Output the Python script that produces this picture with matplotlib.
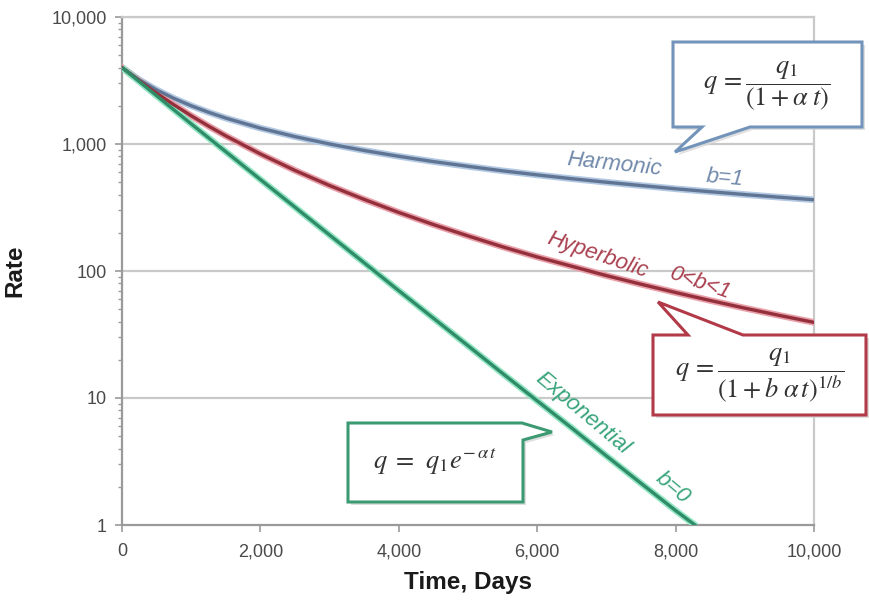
import matplotlib
matplotlib.use("Agg")
import matplotlib.pyplot as plt
from matplotlib.patches import Polygon
from matplotlib.ticker import FixedLocator, NullFormatter, LogLocator

# ---- data ----
t_days = [0, 250, 500, 750, 1000, 1250, 1500, 2000, 2500, 3000, 3500, 4000, 4500, 5000,
          5500, 6000, 6500, 7000, 7500, 8000, 8500, 9000, 9500, 10000]
harmonic = [4000, 3200, 2667, 2286, 2000, 1778, 1600, 1333, 1143, 1000, 889, 800, 727, 667,
            615, 571, 533, 500, 471, 444, 421, 400, 381, 364]
hyperbolic = [4000, 3143, 2510, 2034, 1668, 1384, 1159, 835, 619, 471, 366, 289, 232, 189,
              155, 129, 109, 92, 78.7, 67.7, 58.6, 51.0, 44.7, 39.4]
t_exp = [0, 500, 1000, 1500, 2000, 2500, 3000, 3500, 4000, 4500, 5000,
         5500, 6000, 6500, 7000, 7500, 8000, 8300]
exponential = [4000, 2400, 1440, 870, 525, 318, 192, 116, 70, 42.5, 25.8,
               15.6, 9.5, 5.8, 3.5, 2.13, 1.3, 0.98]

x_ticks = [0, 2000, 4000, 6000, 8000, 10000]
x_tick_labels = ["0", "2,000", "4,000", "6,000", "8,000", "10,000"]
y_ticks = [1, 10, 100, 1000, 10000]
y_tick_labels = ["1", "10", "100", "1,000", "10,000"]

W, H = 869, 600
plt.rcParams['font.family'] = ['Liberation Sans', 'DejaVu Sans']
plt.rcParams['mathtext.fontset'] = 'stix'

fig = plt.figure(figsize=(W / 100, H / 100), dpi=100)
ax = fig.add_axes([122 / W, 1 - 525 / H, (814 - 122) / W, (525 - 17) / H])

ax.set_yscale('log')
ax.set_xlim(0, 10000)
ax.set_ylim(1, 10000)

grid_c = '#c9c9c9'
spine_c = '#9a9a9a'
for y in y_ticks[1:]:
    ax.axhline(y, color=grid_c, lw=1.6, zorder=1)
for s in ['top', 'right']:
    ax.spines[s].set_color(grid_c)
    ax.spines[s].set_linewidth(1.6)
for s in ['left', 'bottom']:
    ax.spines[s].set_color(spine_c)
    ax.spines[s].set_linewidth(1.6)

ax.xaxis.set_major_locator(FixedLocator(x_ticks))
ax.set_xticklabels(x_tick_labels)
ax.yaxis.set_major_locator(FixedLocator(y_ticks))
ax.set_yticklabels(y_tick_labels)
ax.yaxis.set_minor_locator(LogLocator(base=10, subs=range(2, 10)))
ax.yaxis.set_minor_formatter(NullFormatter())
ax.tick_params(axis='both', which='major', colors=spine_c, labelcolor='#4a4a4a',
               labelsize=13, length=5, width=1.2)
ax.tick_params(axis='y', which='minor', colors=spine_c, length=3, width=1)
ax.tick_params(axis='x', pad=8)
ax.tick_params(axis='y', pad=6)

ax.set_xlabel('Time, Days', fontsize=17.5, fontweight='bold', color='#1a1a1a', labelpad=8)
ax.set_ylabel('Rate', fontsize=17.5, fontweight='bold', color='#1a1a1a', labelpad=18)

# curves: halo + core line
ax.plot(t_days, harmonic, color='#b3c8e2', lw=4.8, zorder=3)
ax.plot(t_days, harmonic, color='#5f7593', lw=2.4, zorder=4)
ax.plot(t_days, hyperbolic, color='#eaa0aa', lw=4.8, zorder=3)
ax.plot(t_days, hyperbolic, color='#93303b', lw=2.4, zorder=4)
ax.plot(t_exp, exponential, color='#93e6c4', lw=4.8, zorder=3, solid_capstyle='butt')
ax.plot(t_exp, exponential, color='#2f8c68', lw=2.4, zorder=4, solid_capstyle='butt')


def fp(x, y):
    return (x / W, 1 - y / H)


# curve labels
def lab(txt, x, y, rot, color):
    fig.text(*fp(x, y), txt, fontsize=16, style='italic', color=color,
             rotation=rot, ha='center', va='center', rotation_mode='anchor', zorder=6)

lab('Harmonic', 614, 165, -6, '#7089aa')
lab('b=1', 725, 178, -5, '#7089aa')
lab('Hyperbolic', 597, 255, -19, '#a9404f')
lab('0<b<1', 700, 283, -19, '#a9404f')
lab('Exponential', 583, 413, -40, '#38a47b')
lab('b=0', 673, 488, -40, '#38a47b')


# callouts
def callout(pts, edge):
    shadow = Polygon([fp(x + 3, y + 3) for x, y in pts], closed=True,
                     transform=fig.transFigure, facecolor='#d8d8d8',
                     edgecolor='none', zorder=7, alpha=0.8)
    fig.add_artist(shadow)
    poly = Polygon([fp(x, y) for x, y in pts], closed=True,
                   transform=fig.transFigure, facecolor='white',
                   edgecolor=edge, lw=2.2, zorder=8, joinstyle='miter')
    fig.add_artist(poly)

callout([(673, 42), (862, 42), (862, 127), (750, 127), (675, 152),
         (702, 127), (673, 127)], '#7394ba')
callout([(653, 335), (688, 335), (658, 302), (743, 335), (866, 335),
         (866, 415), (653, 415)], '#b23a48')
callout([(348, 423), (522, 423), (552, 432), (523, 440), (523, 502),
         (348, 502)], '#3c9a72')

fcol = '#333333'
fig.text(*fp(767, 86), r'$q\,=\dfrac{q_1}{(1+\alpha\;t)}$', fontsize=19,
         ha='center', va='center', color=fcol, zorder=9)
fig.text(*fp(760, 376), r'$q\,=\dfrac{q_1}{(1+b\;\alpha\, t)^{1/b}}$', fontsize=19,
         ha='center', va='center', color=fcol, zorder=9)
fig.text(*fp(435, 462), r'$q\;=\;\,q_1 e^{-\,\alpha\, t}$', fontsize=19,
         ha='center', va='center', color=fcol, zorder=9)

fig.savefig('out.png', dpi=100, facecolor='white')
